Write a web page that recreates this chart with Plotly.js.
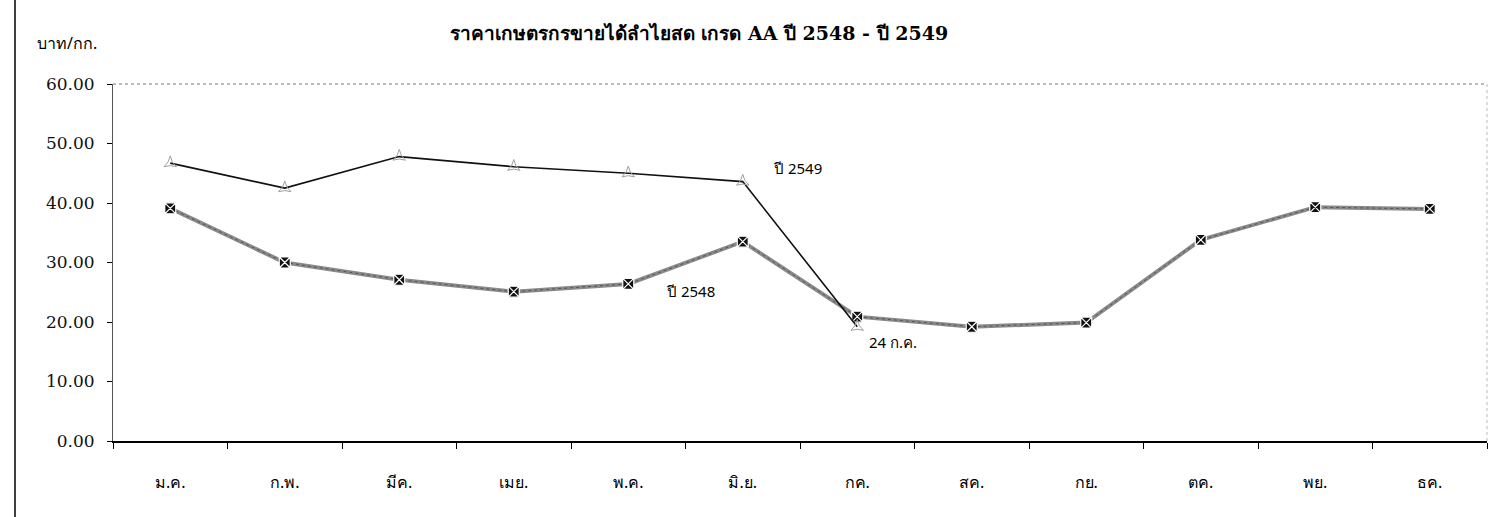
<!DOCTYPE html>
<html>
<head>
<meta charset="utf-8">
<script src="https://cdn.plot.ly/plotly-3.0.1.min.js"></script>
<style>
html,body{margin:0;padding:0;background:#fff;}
#chart{width:1503px;height:517px;}
</style>
</head>
<body>
<div id="chart"></div>
<script>
var months = ["ม.ค.","ก.พ.","มีค.","เมย.","พ.ค.","มิ.ย.","กค.","สค.","กย.","ตค.","พย.","ธค."];
var price2548 = [39.1, 30.0, 27.1, 25.1, 26.4, 33.5, 20.9, 19.2, 19.9, 33.8, 39.3, 39.0];
var price2549 = [46.7, 42.5, 47.8, 46.1, 45.0, 43.6, 19.2];
var months2549 = months.slice(0, price2549.length);
var yTicks = [0, 10, 20, 30, 40, 50, 60];
var yTickText = yTicks.map(function(v){ return v.toFixed(2); });

var thai = "'Noto Sans', 'Liberation Sans', sans-serif";
var serif = "'DejaVu Serif', 'Liberation Serif', serif";

var traces = [
  {
    x: months, y: price2548, type: "scatter", mode: "lines",
    line: {color: "#8a8a8a", width: 4}, hoverinfo: "skip", showlegend: false
  },
  {
    x: months, y: price2548, type: "scatter", mode: "lines+markers", name: "ปี 2548",
    line: {color: "#555", width: 1, dash: "dot"},
    marker: {symbol: "square-x", size: 11, color: "#111", line: {color: "#fff", width: 1.2}},
    showlegend: false
  },
  {
    x: months2549, y: price2549, type: "scatter", mode: "lines+markers", name: "ปี 2549",
    line: {color: "#111", width: 1.6},
    marker: {symbol: "star-triangle-up-open", size: 9, color: "#a0a0a0", line: {width: 1, color: "#a0a0a0"}},
    showlegend: false
  }
];

var layout = {
  width: 1503, height: 517,
  margin: {l: 113, r: 16, t: 84, b: 76},
  paper_bgcolor: "#fff", plot_bgcolor: "#fff",
  title: {
    text: "<b>ราคาเกษตรกรขายได้ลำไยสด เกรด AA ปี 2548 - ปี 2549</b>",
    font: {family: serif, size: 19, color: "#000"},
    x: 0.465, xanchor: "center", y: 0.935, yanchor: "middle"
  },
  xaxis: {
    type: "category", categoryorder: "array", categoryarray: months,
    range: [-0.5, 11.5],
    tickson: "boundaries", ticks: "outside", ticklen: 6, tickcolor: "#000", tickwidth: 1,
    ticklabelstandoff: 26,
    showline: true, linecolor: "#000", linewidth: 2,
    showgrid: false, zeroline: false,
    tickfont: {family: thai, size: 16, color: "#000"},
    mirror: false
  },
  yaxis: {
    range: [0, 60], tickmode: "array", tickvals: yTicks, ticktext: yTickText,
    ticks: "outside", ticklen: 5, tickcolor: "#000",
    showline: true, linecolor: "#555", linewidth: 1,
    showgrid: false, zeroline: false,
    tickfont: {family: serif, size: 17, color: "#111"},
    ticklabelstandoff: 9
  },
  shapes: [
    {type: "line", xref: "paper", yref: "paper", x0: 0, x1: 1, y0: 1, y1: 1,
     line: {color: "#777", width: 1, dash: "dot"}},
    {type: "line", xref: "paper", yref: "paper", x0: 1, x1: 1, y0: 0, y1: 1,
     line: {color: "#bbb", width: 1, dash: "dot"}},
    {type: "line", xref: "paper", yref: "paper", x0: (15 - 113) / 1374, x1: (15 - 113) / 1374,
     y0: -76 / 357, y1: 441 / 357, line: {color: "#000", width: 1.5}}
  ],
  annotations: [
    {x: 5.48, y: 45.9, xref: "x", yref: "y", text: "ปี 2549", showarrow: false,
     font: {family: thai, size: 15, color: "#000"}},
    {x: 4.54, y: 25.2, xref: "x", yref: "y", text: "ปี 2548", showarrow: false,
     font: {family: thai, size: 15, color: "#000"}},
    {x: 6.31, y: 16.6, xref: "x", yref: "y", text: "24 ก.ค.", showarrow: false,
     font: {family: thai, size: 15, color: "#000"}},
    {x: (35 - 113) / 1374, y: (441 - 43) / 357, xref: "paper", yref: "paper", text: "บาท/กก.", showarrow: false,
     xanchor: "left", yanchor: "middle", font: {family: thai, size: 16, color: "#000"}}
  ]
};

Plotly.newPlot("chart", traces, layout, {staticPlot: true, displayModeBar: false});
</script>
</body>
</html>
